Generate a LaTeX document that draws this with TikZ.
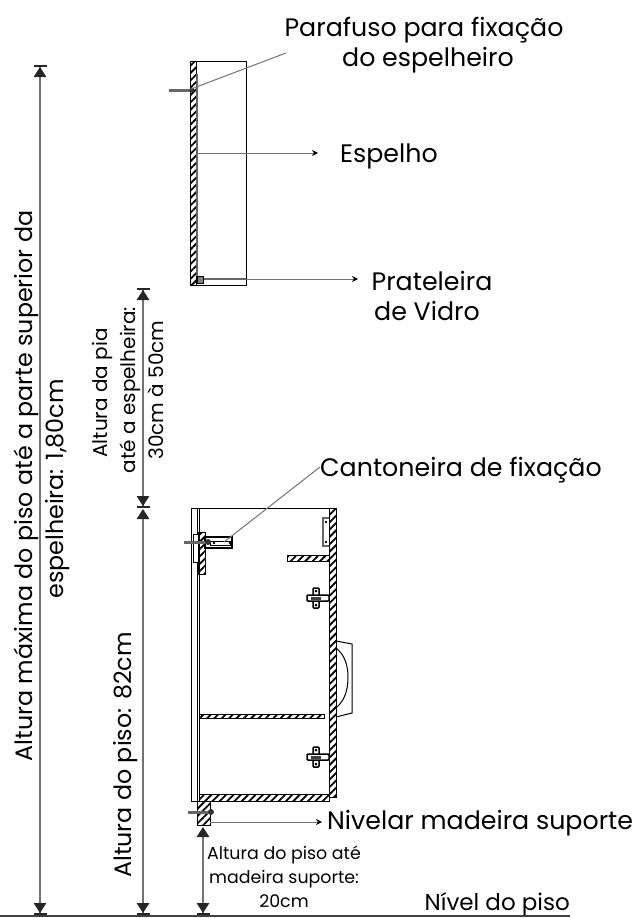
\documentclass[tikz,border=0pt]{standalone}
\usepackage{fontspec}
\setmainfont{Poppins}
\usetikzlibrary{arrows.meta,patterns.meta}
\tikzset{
  txt/.style={inner sep=0pt, font=\fontsize{25.300}{25}\selectfont},
  txtbig/.style={inner sep=0pt, font=\fontsize{23.800}{24}\selectfont, rotate=90},
  txtsmall/.style={inner sep=0pt, font=\fontsize{17.400}{18}\selectfont},
  txtpia/.style={inner sep=0pt, font=\fontsize{20}{20}\selectfont, rotate=90},
  wall/.style={draw=black, line width=1pt, pattern={Lines[angle=45,distance=5.2pt,line width=1.8pt]}},
  plain/.style={draw=black, line width=1pt},
  steel/.style={draw=black!60, line width=2.5pt},
  dim/.style={draw=black!55, line width=1.2pt},
  lead/.style={draw=black!55, line width=1pt, -{Stealth[length=6pt,width=6pt,black]}},
  tipboth/.style={{Bar[width=13pt,line width=2pt,black!85]Triangle[length=10pt,width=12.500pt,black!85]}-{Triangle[length=10pt,width=12.500pt,black!85]Bar[width=13pt,line width=2pt,black!85]}},
  tipopen/.style={{Triangle[length=10pt,width=12.500pt,black!85]}-{Triangle[length=10pt,width=12.500pt,black!85]Bar[width=13pt,line width=2pt,black!85]}},
}
\begin{document}
\begin{tikzpicture}[x=1pt,y=-1pt]
\useasboundingbox (0,0) rectangle (643,918);
% labels
\node[txt] (parafusoa) at (424,30) {Parafuso para fixação};
\node[txt] (parafusob) at (428,60) {do espelheiro};
\node[txt, anchor=west] (espelho) at (340,156) {Espelho};
\node[txt] (prateleiraa) at (432,281) {Prateleira};
\node[txt] (prateleirab) at (427,311) {de Vidro};
\node[txt, anchor=west] (cantoneira) at (320,470) {Cantoneira de fixação};
\node[txt, anchor=west] (nivelar) at (327,823) {Nivelar madeira suporte};
\node[txt, anchor=east, font=\fontsize{23}{23}\selectfont] (nivel) at (570,904) {Nível do piso};
\node[txtsmall] (alturaa) at (284,855) {Altura do piso até};
\node[txtsmall] (alturab) at (284,879) {madeira suporte:};
\node[txtsmall] (alturac) at (284,901) {20cm};
\node[txtbig] (maxa) at (26,486) {Altura máxima do piso até a parte superior da};
\node[txtbig] (maxb) at (58,489) {espelheira: 1,80cm};
\node[txtpia] (piaa) at (102,393) {Altura da pia};
\node[txtpia] (piab) at (130,390) {até a espelheira:};
\node[txtpia] (piac) at (156,390) {30cm à 50cm};
\node[txtbig] (pisolbl) at (126,755) {Altura do piso: 82cm};
% upper cabinet
\draw[plain] (190,61) rectangle (246,285);
\draw[wall] (190,61) rectangle (196,285);
\draw[steel] (197,74) -- (197,276);
\draw[steel] (198,279) -- (246,279);
\draw[plain, fill=black!50] (197,276) rectangle (203,283);
\draw[steel, line width=3pt] (169,90) -- (192,90);
\fill[black!80] (192,90) circle (2.5);
% lower cabinet
\draw[plain] (191,508) -- (336,508);
\draw[plain] (191,508) -- (191,801) -- (199,801);
\draw[plain] (197,508) -- (197,801);
\draw[plain] (199,508) -- (199,801);
\draw[wall] (329,508) rectangle (336,797);
\draw[wall] (199,794) rectangle (329,801);
\draw[wall] (199,714) rectangle (324,718);
\draw[wall] (287,555) rectangle (329,561);
% sink
\draw[plain] (336,641) -- (352,644) -- (352,713) -- (336,717);
\draw[plain] (336,648) .. controls (345,655) and (348,666) .. (348,677) .. controls (348,690) and (345,700) .. (336,708);
% cleat
\draw[wall] (198,532) rectangle (205,574);
\draw[plain, fill=white] (193,534) rectangle (198,562);
\draw[plain, line width=1.5pt] (205,537) rectangle (232,548);
\draw[plain, fill=white] (210,541) rectangle (230,545);
\fill (214,543) circle (1.3) (230,543) circle (1.3);
\draw[steel, line width=3pt] (184,542) -- (208,542);
\fill[black!80] (208,542) circle (3);
% top right bracket
\draw[draw=black!60, line width=1.5pt] (329,518) -- (323,518) -- (323,546) -- (329,546);
\fill (326,522) circle (1.3) (326,542) circle (1.3);
% hinges
\foreach \hy in {598,757}{
  \begin{scope}[yshift=-\hy pt]
    \draw[plain, line width=1.5pt, fill=white, rounded corners=1pt] (313,-10) rectangle (319,10);
    \draw[plain, line width=1.5pt, fill=white, rounded corners=1pt] (307,-3) rectangle (329,3);
    \fill[black!75] (311,-1.500) rectangle (321,1.500);
    \fill (316,-7) circle (1.5) (316,7) circle (1.5);
  \end{scope}
}
% support
\draw[wall] (197,801) rectangle (210,825);
\draw[steel, line width=3pt] (188,812) -- (210,812);
\fill[black!80] (211,812) circle (3);
% floor
\draw[draw=black!75, line width=1.3pt] (0,916) -- (570,916);
% dimensions
\coordinate (maxtop) at (40,65);
\coordinate (maxbot) at (40,915);
\coordinate (piatop) at (143,288);
\coordinate (piabot) at (143,508);
\coordinate (pisotop) at (143,509);
\coordinate (pisobot) at (143,915);
\coordinate (woodtop) at (203,827);
\coordinate (woodbot) at (203,915);
\draw[dim, tipboth] (maxtop) -- (maxbot);
\draw[dim, tipboth] (piatop) -- (piabot);
\draw[dim, tipopen] (pisotop) -- (pisobot);
\draw[dim, tipopen] (woodtop) -- (woodbot);
% leaders
\coordinate (screwtip) at (191,89);
\coordinate (screwend) at (286,53);
\coordinate (mirrortip) at (198,153);
\coordinate (mirrorend) at (318,153);
\coordinate (shelftip) at (246,279);
\coordinate (shelfend) at (358,279);
\coordinate (brackettip) at (224,542);
\coordinate (bracketend) at (320,467);
\coordinate (woodtip) at (210,822);
\coordinate (woodend) at (322,822);
\draw[lead, -] (screwtip) -- (screwend);
\draw[lead] (mirrortip) -- (mirrorend);
\draw[lead] (shelftip) -- (shelfend);
\draw[lead, -] (brackettip) -- (bracketend);
\draw[lead] (woodtip) -- (woodend);
\end{tikzpicture}
\end{document}
